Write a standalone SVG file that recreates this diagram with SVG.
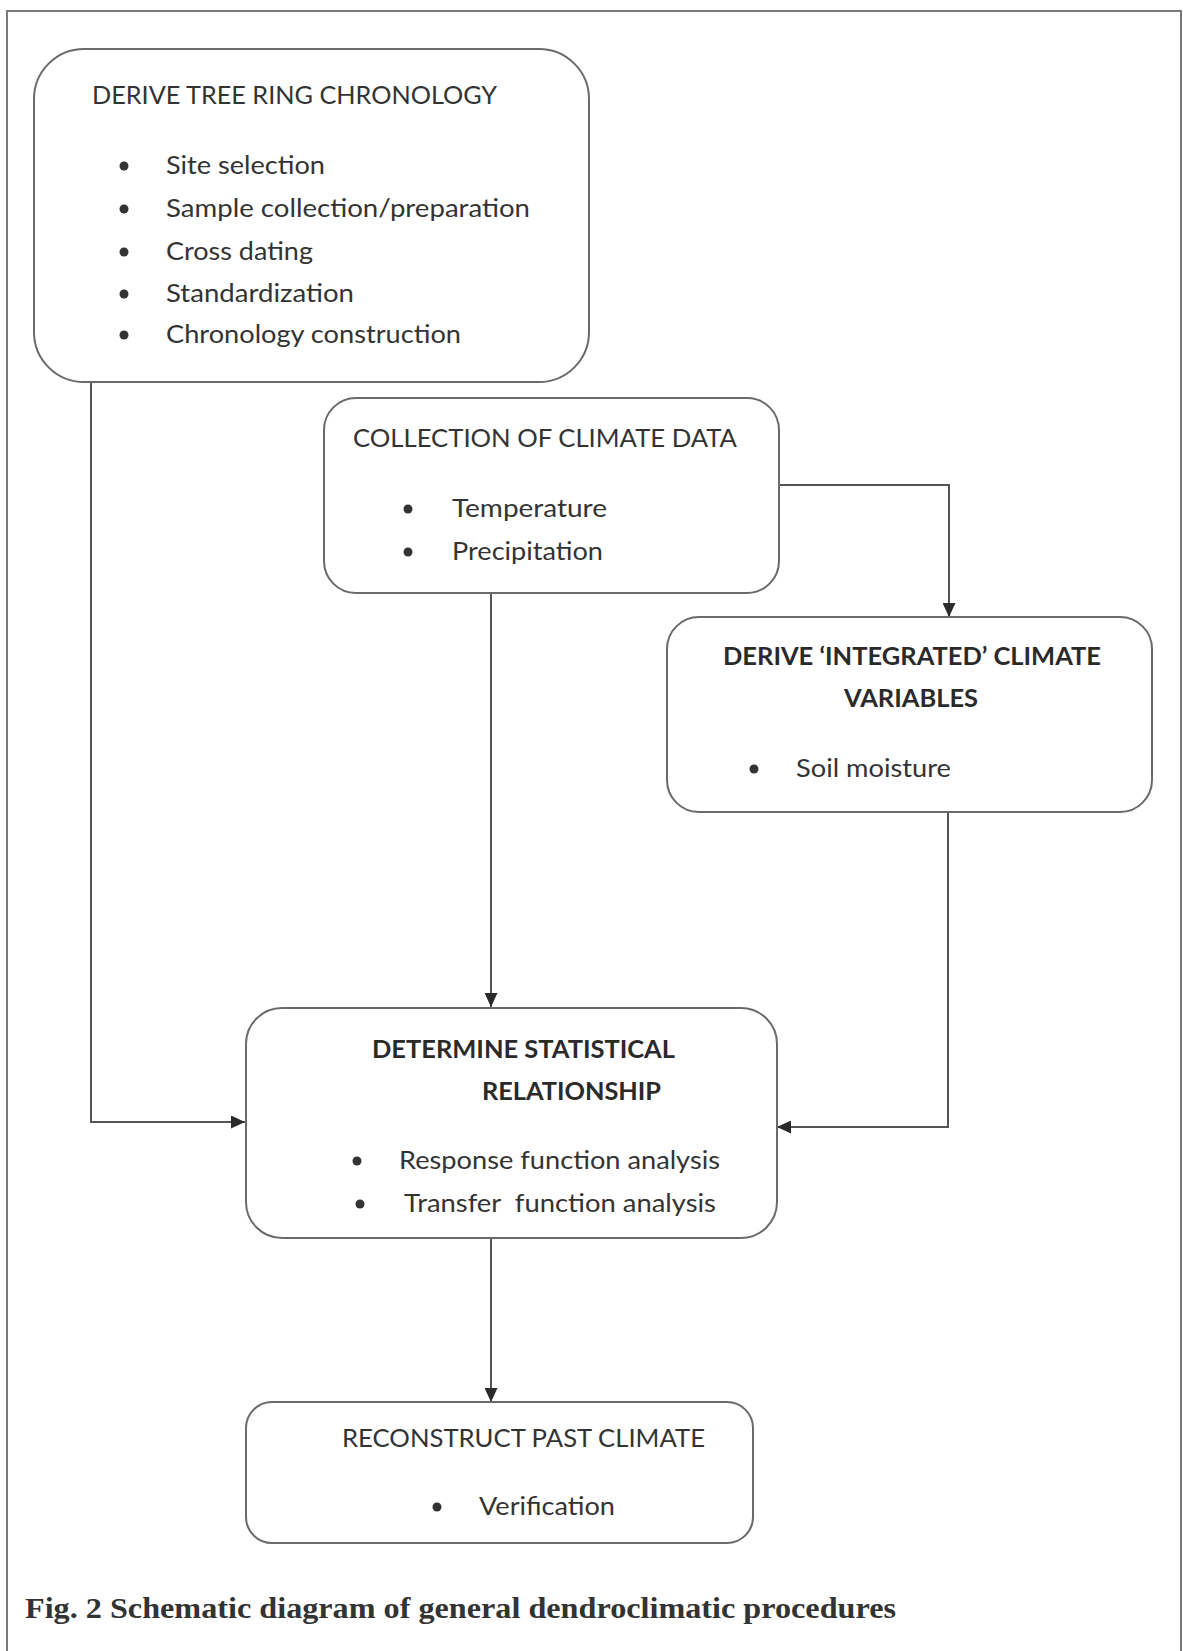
<svg xmlns="http://www.w3.org/2000/svg" width="1183" height="1651" viewBox="0 0 1183 1651">
  <defs>
    <marker id="arrow" markerUnits="userSpaceOnUse" markerWidth="14" markerHeight="13" refX="14" refY="6.5" orient="auto">
      <path d="M0,0 L14,6.5 L0,13 z" fill="#2a2a2a"/>
    </marker>
  </defs>
  <style>
    .box { fill: #ffffff; stroke: #6a6a6a; stroke-width: 2; }
    .frame { fill: none; stroke: #7a7a7a; stroke-width: 2; }
    .t { font-family: Lato, "Open Sans", "Liberation Sans", sans-serif; font-size: 25px; fill: #333333; }
    .b { font-weight: bold; fill: #2a2a2a; }
    .dot { fill: #333333; }
    .conn { fill: none; stroke: #555555; stroke-width: 2; }
    .cap { font-family: "Liberation Serif", "Times New Roman", serif; font-weight: bold; font-size: 30px; fill: #333333; }
  </style>
  <rect x="0" y="0" width="1183" height="1651" fill="#ffffff"/>
  <path class="frame" d="M7,1651 V11 H1181 V1651"/>

  <g id="connectors">
    <path class="conn" d="M91,382 V1122 H245" marker-end="url(#arrow)"/>
    <path class="conn" d="M491,593 V1007" marker-end="url(#arrow)"/>
    <path class="conn" d="M779,485 H949 V617" marker-end="url(#arrow)"/>
    <path class="conn" d="M948,812 V1127 H777" marker-end="url(#arrow)"/>
    <path class="conn" d="M491,1238 V1402" marker-end="url(#arrow)"/>
  </g>

  <g id="node-chronology">
    <rect class="box" x="34" y="49" width="555" height="333" rx="50" ry="50"/>
    <text class="t" x="92" y="104" textLength="405" lengthAdjust="spacingAndGlyphs">DERIVE TREE RING CHRONOLOGY</text>
    <circle class="dot" cx="124" cy="166" r="4.5"/>
    <text class="t" x="166" y="174" textLength="159" lengthAdjust="spacingAndGlyphs">Site selection</text>
    <circle class="dot" cx="124" cy="209" r="4.5"/>
    <text class="t" x="166" y="217" textLength="364" lengthAdjust="spacingAndGlyphs">Sample collection/preparation</text>
    <circle class="dot" cx="124" cy="252" r="4.5"/>
    <text class="t" x="166" y="260" textLength="147" lengthAdjust="spacingAndGlyphs">Cross dating</text>
    <circle class="dot" cx="124" cy="294" r="4.5"/>
    <text class="t" x="166" y="302" textLength="188" lengthAdjust="spacingAndGlyphs">Standardization</text>
    <circle class="dot" cx="124" cy="335" r="4.5"/>
    <text class="t" x="166" y="343" textLength="295" lengthAdjust="spacingAndGlyphs">Chronology construction</text>
  </g>

  <g id="node-climate-data">
    <rect class="box" x="324" y="398" width="455" height="195" rx="32" ry="32"/>
    <text class="t" x="353" y="447" textLength="384" lengthAdjust="spacingAndGlyphs">COLLECTION OF CLIMATE DATA</text>
    <circle class="dot" cx="408" cy="509" r="4.5"/>
    <text class="t" x="452" y="517" textLength="155" lengthAdjust="spacingAndGlyphs">Temperature</text>
    <circle class="dot" cx="408" cy="552" r="4.5"/>
    <text class="t" x="452" y="560" textLength="151" lengthAdjust="spacingAndGlyphs">Precipitation</text>
  </g>

  <g id="node-integrated">
    <rect class="box" x="667" y="617" width="485" height="195" rx="32" ry="32"/>
    <text class="t b" x="723" y="665" textLength="378" lengthAdjust="spacingAndGlyphs">DERIVE ‘INTEGRATED’ CLIMATE</text>
    <text class="t b" x="844" y="707" textLength="134" lengthAdjust="spacingAndGlyphs">VARIABLES</text>
    <circle class="dot" cx="754" cy="769" r="4.5"/>
    <text class="t" x="796" y="777" textLength="155" lengthAdjust="spacingAndGlyphs">Soil moisture</text>
  </g>

  <g id="node-statistical">
    <rect class="box" x="246" y="1008" width="531" height="230" rx="36" ry="36"/>
    <text class="t b" x="372" y="1058" textLength="303" lengthAdjust="spacingAndGlyphs">DETERMINE STATISTICAL</text>
    <text class="t b" x="482" y="1100" textLength="179" lengthAdjust="spacingAndGlyphs">RELATIONSHIP</text>
    <circle class="dot" cx="357" cy="1161" r="4.5"/>
    <text class="t" x="399" y="1169" textLength="321" lengthAdjust="spacingAndGlyphs">Response function analysis</text>
    <circle class="dot" cx="360" cy="1204" r="4.5"/>
    <text class="t" x="404" y="1212" textLength="312" lengthAdjust="spacingAndGlyphs" style="white-space:pre">Transfer  function analysis</text>
  </g>

  <g id="node-reconstruct">
    <rect class="box" x="246" y="1402" width="507" height="141" rx="26" ry="26"/>
    <text class="t" x="342" y="1447" textLength="363" lengthAdjust="spacingAndGlyphs">RECONSTRUCT PAST CLIMATE</text>
    <circle class="dot" cx="437" cy="1507" r="4.5"/>
    <text class="t" x="479" y="1515" textLength="136" lengthAdjust="spacingAndGlyphs">Verification</text>
  </g>

  <text class="cap" x="25" y="1618" textLength="871" lengthAdjust="spacingAndGlyphs">Fig. 2 Schematic diagram of general dendroclimatic procedures</text>
</svg>
